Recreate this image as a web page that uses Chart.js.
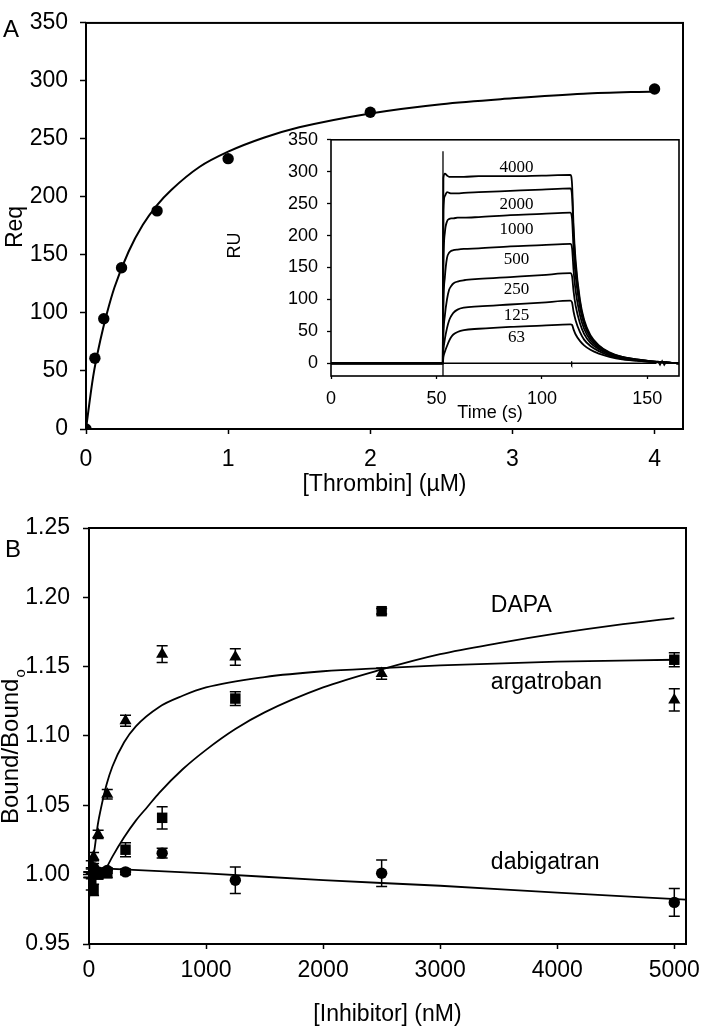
<!DOCTYPE html>
<html><head><meta charset="utf-8">
<script src="https://cdn.jsdelivr.net/npm/chart.js@4/dist/chart.umd.min.js"></script>
<style>
html,body{margin:0;padding:0;background:#fff;}
#wrap{position:relative;width:701px;height:1031px;overflow:hidden;background:#fff;}
canvas{position:absolute;display:block;}
</style></head><body>
<div id="wrap">
<canvas id="cA" width="701" height="500" style="left:0;top:0;width:701px;height:500px"></canvas>
<canvas id="cI" width="468" height="308" style="left:222px;top:120px;width:468px;height:308px"></canvas>
<canvas id="cB" width="730" height="531" style="left:0;top:500px;width:730px;height:531px"></canvas>
</div>
<script>
// ================= Panel A : equilibrium binding =================
const thrombinUM = [0, 0.0625, 0.125, 0.25, 0.5, 1, 2, 4];
const reqRU      = [0, 61, 95, 139, 188, 233, 273, 293];
const fitThrombin = [0, 0.05, 0.1, 0.15, 0.2, 0.3, 0.4, 0.5, 0.6, 0.8, 1.0, 1.25, 1.5, 2, 2.5, 3, 3.5, 4];
const fitReq      = [0, 45, 76, 101, 122, 153, 176, 193, 206, 226, 239, 251, 260, 272, 280, 285, 289, 291];
const tickThrombin = [0, 1, 2, 3, 4];
const tickReq = [0, 50, 100, 150, 200, 250, 300, 350];

// ================= Inset : sensorgrams =================
const timeS   = [0, 53, 53.3, 54, 55, 56, 57, 58, 60, 63, 70, 85, 100, 113.5, 114.3, 115, 116, 118, 120, 123, 127, 132, 138, 145, 152, 160, 165];
const ru4000  = [0, 0, 290, 297, 294, 292, 292, 292, 292, 292, 293, 293, 294, 295, 280, 215, 160, 100, 68, 44, 28, 17, 10, 6, 3, 1, 0];
const ru2000  = [0, 0, 240, 262, 268, 267, 266, 266, 266, 267, 268, 270, 272, 274, 262, 205, 152, 96, 65, 42, 27, 16, 10, 6, 3, 1, 0];
const ru1000  = [0, 0, 150, 205, 222, 226, 227, 227, 228, 228, 229, 232, 234, 236, 226, 180, 136, 88, 61, 40, 26, 16, 9, 5, 3, 1, 0];
const ru500   = [0, 0, 90, 135, 165, 173, 176, 177, 178, 179, 180, 183, 185, 187, 180, 146, 113, 76, 54, 36, 24, 15, 9, 5, 3, 1, 0];
const ru250   = [0, 0, 45, 75, 100, 115, 121, 125, 128, 130, 132, 135, 138, 141, 136, 113, 90, 63, 46, 32, 22, 14, 8, 5, 2, 1, 0];
const ru125   = [0, 0, 20, 38, 55, 67, 74, 79, 84, 87, 89, 92, 95, 98, 95, 81, 67, 49, 37, 27, 19, 12, 7, 4, 2, 1, 0];
const ru63    = [0, 0, 10, 18, 27, 35, 41, 45, 49, 52, 54, 57, 59, 61, 60, 53, 45, 35, 28, 21, 15, 10, 6, 4, 2, 1, 0];
const concLabels = ['4000', '2000', '1000', '500', '250', '125', '63'];
const labelRU = [299, 242, 202, 156, 108, 67, 33];
const labelT = 88;
const baselineT  = [0, 113.9, 114, 114.2, 114.4, 154, 155, 156, 157, 158, 159, 160, 165];
const baselineRU = [0, 0, 3, -2, 0, 0, 3, -3, 4, -3, 2, 0, 0];
const spikeT  = [53.1, 53.1];
const spikeRU = [-25, 332];
const tickTime = [0, 50, 100, 150];
const tickRU   = [0, 50, 100, 150, 200, 250, 300, 350];

// ================= Panel B : inhibitors =================
const inhibitorNM   = [0, 19.5, 39, 78, 156, 312, 625, 1250, 2500, 5000];
const argatroban    = [1.000, 1.007, 1.013, 1.029, 1.058, 1.111, 1.159, 1.157, 1.145, 1.126];
const argatrobanErr = [0.002, 0.003, 0.003, 0.003, 0.0035, 0.004, 0.006, 0.006, 0.004, 0.008];
const dapa          = [1.000, 0.993, 0.989, 1.000, 1.001, 1.018, 1.041, 1.127, 1.190, 1.155];
const dapaErr       = [0.002, 0.004, 0.004, 0.003, 0.003, 0.005, 0.008, 0.005, 0.002, 0.005];
const dabigatran    = [1.000, 1.003, 1.005, 1.002, 1.003, 1.002, 1.0155, 0.996, 1.001, 0.980];
const dabigatranErr = [0.002, 0.002, 0.003, 0.002, 0.002, 0.002, 0.0035, 0.0095, 0.0095, 0.010];
const fitArgX  = [0, 25, 50, 75, 100, 150, 200, 300, 400, 600, 800, 1000, 1500, 2000, 2500, 3000, 4000, 5000];
const fitArgY  = [0.982, 1.005, 1.020, 1.036, 1.047, 1.065, 1.078, 1.0955, 1.107, 1.121, 1.129, 1.135, 1.1425, 1.1467, 1.149, 1.151, 1.1536, 1.155];
const fitDapaX = [120, 200, 300, 400, 500, 600, 800, 1000, 1250, 1500, 2000, 2500, 3000, 3500, 4000, 4500, 5000];
const fitDapaY = [1.000, 1.013, 1.027, 1.039, 1.049, 1.059, 1.076, 1.090, 1.105, 1.117, 1.135, 1.148, 1.159, 1.167, 1.174, 1.180, 1.185];
const fitDabiX = [0, 1000, 2000, 3000, 4000, 5100];
const fitDabiY = [1.005, 1.001, 0.996, 0.992, 0.987, 0.982];
const tickInhibitor = [0, 1000, 2000, 3000, 4000, 5000];
const tickBound = [0.95, 1.00, 1.05, 1.10, 1.15, 1.20, 1.25];
const seriesNames = ['DAPA', 'argatroban', 'dabigatran'];
const nameNM = 3433;
const nameY = [1.1895, 1.1336, 1.004];

// ================= helpers =================
const SANS = "'Liberation Sans', Arial, Helvetica, sans-serif";
const SERIF = "'Liberation Serif', 'Times New Roman', serif";
const pts = (xs, ys) => xs.map((x, i) => ({x: x, y: ys[i]}));

function axis(o) {
  return {
    type: 'linear', min: o.min, max: o.max, position: o.isX ? 'bottom' : 'left',
    afterBuildTicks: s => { s.ticks = o.ticks.map(v => ({value: v})); },
    afterFit: s => { if (o.isX) s.height = o.fit; else s.width = o.fit; },
    grid: {display: true, drawOnChartArea: false, drawTicks: true, tickLength: o.tl, tickColor: '#000', tickWidth: o.tw || 1.5},
    border: {display: false},
    ticks: {padding: o.pad, color: '#000', font: o.font, autoSkip: false, maxRotation: 0, minRotation: 0,
            callback: o.fmt || (v => String(v))},
    title: o.title ? {display: true, text: o.title, color: '#000', font: o.titleFont, padding: o.titlePad} : {display: false}
  };
}
function framePlugin(lw) {
  return {id: 'frame', afterDraw(chart) {
    const a = chart.chartArea, c = chart.ctx;
    c.save(); c.strokeStyle = '#000'; c.lineWidth = lw;
    c.strokeRect(a.left, a.top, a.right - a.left, a.bottom - a.top); c.restore();
  }};
}
function textPlugin(items) {
  return {id: 'texts', afterDraw(chart) {
    const c = chart.ctx;
    items.forEach(it => {
      let x = it.x, y = it.y;
      if (it.data) { x = chart.scales.x.getPixelForValue(it.x); y = chart.scales.y.getPixelForValue(it.y); }
      c.save(); c.fillStyle = '#000'; c.font = it.font;
      c.textAlign = it.align || 'left'; c.textBaseline = it.baseline || 'alphabetic';
      c.translate(x, y); if (it.rot) c.rotate(it.rot);
      c.fillText(it.text, 0, 0);
      if (it.sub) { const w = c.measureText(it.text).width; c.font = it.subFont; c.textAlign = 'left'; c.fillText(it.sub, w + 1, it.subDy); }
      c.restore();
    });
  }};
}
const errPlugin = {id: 'errbars', afterDatasetsDraw(chart) {
  const c = chart.ctx, xs = chart.scales.x, ys = chart.scales.y;
  chart.data.datasets.forEach(ds => {
    if (!ds.errs) return;
    c.save(); c.strokeStyle = '#000'; c.lineWidth = 1.5;
    ds.data.forEach((p, i) => {
      const e = ds.errs[i]; if (!e) return;
      const px = xs.getPixelForValue(p.x), y1 = ys.getPixelForValue(p.y + e), y2 = ys.getPixelForValue(p.y - e);
      c.beginPath(); c.moveTo(px, y1); c.lineTo(px, y2);
      c.moveTo(px - 5.5, y1); c.lineTo(px + 5.5, y1);
      c.moveTo(px - 5.5, y2); c.lineTo(px + 5.5, y2); c.stroke();
    });
    c.restore();
  });
}};
const baseOpts = {responsive: false, animation: false, devicePixelRatio: 1, events: [],
  plugins: {legend: {display: false}, tooltip: {enabled: false}}};

// ================= Chart A =================
new Chart(document.getElementById('cA'), {
  type: 'scatter',
  data: {datasets: [
    {data: pts(thrombinUM, reqRU), pointStyle: 'circle', pointRadius: 5.7, backgroundColor: '#000', borderColor: '#000', borderWidth: 0, showLine: false},
    {data: pts(fitThrombin, fitReq), showLine: true, pointRadius: 0, borderColor: '#000', borderWidth: 2, cubicInterpolationMode: 'monotone'}
  ]},
  options: Object.assign({}, baseOpts, {
    layout: {padding: {left: 0, top: 11, right: 18, bottom: 0}},
    scales: {
      x: axis({isX: true, min: 0, max: 4.2, ticks: tickThrombin, fit: 71, tl: 5, pad: 11.7,
               font: {family: SANS, size: 23}, title: '[Thrombin] (\u00b5M)', titleFont: {family: SANS, size: 23}, titlePad: {top: 0, bottom: 1.2}}),
      y: axis({min: 0, max: 350, ticks: tickReq, fit: 86, tl: 6, pad: 12, font: {family: SANS, size: 23, lineHeight: 0.95}})
    }
  }),
  plugins: [framePlugin(2), textPlugin([
    {text: 'A', x: 3, y: 37, font: '24px ' + SANS},
    {text: 'Req', x: 22, y: 227, rot: -Math.PI / 2, align: 'center', font: '23px ' + SANS}
  ])]
});

// ================= Inset =================
const concSeries = [ru4000, ru2000, ru1000, ru500, ru250, ru125, ru63];
const insetSets = concSeries.map(arr => ({data: pts(timeS, arr), showLine: true, pointRadius: 0, borderColor: '#000', borderWidth: 1.8, cubicInterpolationMode: 'monotone'}));
insetSets.push({data: pts(baselineT, baselineRU), showLine: true, pointRadius: 0, borderColor: '#000', borderWidth: 1.3, tension: 0});
insetSets.push({data: pts(spikeT, spikeRU), showLine: true, pointRadius: 0, borderColor: '#000', borderWidth: 1.3, tension: 0});
const insetTexts = [
  {text: 'RU', x: 18, y: 125.5, rot: -Math.PI / 2, align: 'center', font: '18px ' + SANS},
  {text: 'Time (s)', x: 268, y: 298, align: 'center', font: '18px ' + SANS}
];
concLabels.forEach((t, i) => insetTexts.push({text: t, data: true, x: labelT, y: labelRU[i], align: 'center', font: '17px ' + SERIF}));
new Chart(document.getElementById('cI'), {
  type: 'scatter',
  data: {datasets: insetSets},
  options: Object.assign({}, baseOpts, {
    layout: {padding: {left: 0, top: 12, right: 11, bottom: 0}},
    scales: {
      x: axis({isX: true, min: 0, max: 165, ticks: tickTime, fit: 52, tl: 3, pad: 9.7, tw: 1.3, font: {family: SANS, size: 18}}),
      y: axis({min: -20, max: 350, ticks: tickRU, fit: 109, tl: 4, pad: 9, tw: 1.3, font: {family: SANS, size: 18}})
    }
  }),
  plugins: [framePlugin(1.6), textPlugin(insetTexts)]
});

// ================= Chart B =================
const bTexts = [
  {text: 'B', x: 5, y: 57, font: '24px ' + SANS},
  {text: 'Bound/Bound', sub: 'o', x: 18, y: 324, rot: -Math.PI / 2, font: '24px ' + SANS, subFont: '15px ' + SANS, subDy: 7}
];
seriesNames.forEach((t, i) => bTexts.push({text: t, data: true, x: nameNM, y: nameY[i], font: '23px ' + SANS}));
new Chart(document.getElementById('cB'), {
  type: 'scatter',
  data: {datasets: [
    {data: pts(fitArgX, fitArgY), showLine: true, pointRadius: 0, borderColor: '#000', borderWidth: 1.8, cubicInterpolationMode: 'monotone'},
    {data: pts(fitDapaX, fitDapaY), showLine: true, pointRadius: 0, borderColor: '#000', borderWidth: 1.8, cubicInterpolationMode: 'monotone'},
    {data: pts(fitDabiX, fitDabiY), showLine: true, pointRadius: 0, borderColor: '#000', borderWidth: 1.8, cubicInterpolationMode: 'monotone'},
    {data: pts(inhibitorNM, argatroban), errs: argatrobanErr, pointStyle: 'triangle', pointRadius: 7, backgroundColor: '#000', borderColor: '#000', borderWidth: 0, showLine: false},
    {data: pts(inhibitorNM, dapa), errs: dapaErr, pointStyle: 'rect', pointRadius: 7.4, backgroundColor: '#000', borderColor: '#000', borderWidth: 0, showLine: false},
    {data: pts(inhibitorNM, dabigatran), errs: dabigatranErr, pointStyle: 'circle', pointRadius: 5.7, backgroundColor: '#000', borderColor: '#000', borderWidth: 0, showLine: false}
  ]},
  options: Object.assign({}, baseOpts, {
    layout: {padding: {left: 0, top: 28, right: 44, bottom: 0}},
    scales: {
      x: axis({isX: true, min: 0, max: 5100, ticks: tickInhibitor, fit: 87, tl: 5, pad: 7.5,
               font: {family: SANS, size: 23}, title: '[Inhibitor] (nM)', titleFont: {family: SANS, size: 23}, titlePad: {top: 0, bottom: 2.2}}),
      y: axis({min: 0.95, max: 1.25, ticks: tickBound, fit: 89, tl: 6, pad: 13, font: {family: SANS, size: 23},
               fmt: v => Number(v).toFixed(2)})
    }
  }),
  plugins: [errPlugin, framePlugin(2), textPlugin(bTexts)]
});
</script>
</body></html>
